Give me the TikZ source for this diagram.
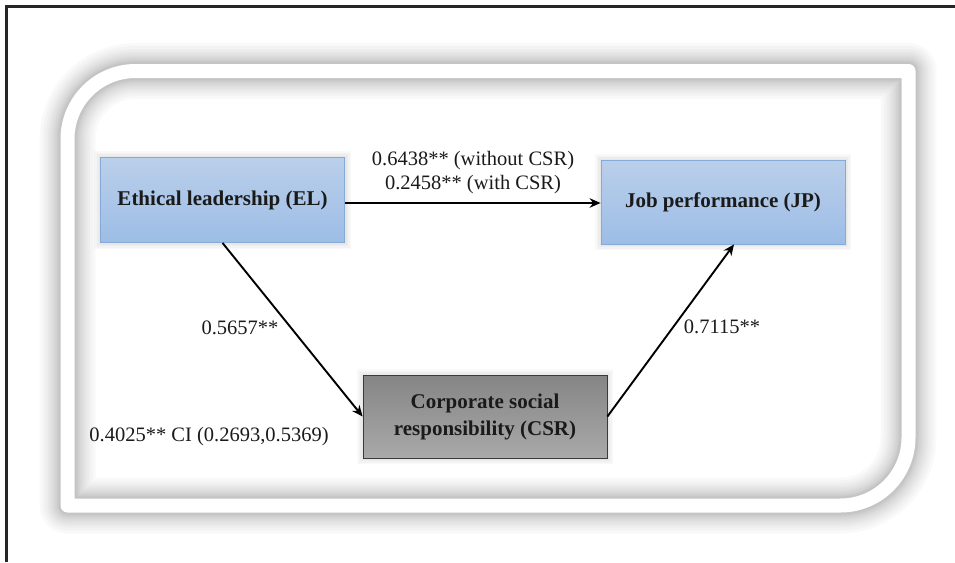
\documentclass[tikz,border=0pt]{standalone}
\usepackage{fontspec}
\setmainfont{Liberation Serif}
\usetikzlibrary{arrows.meta,positioning}
\definecolor{bluetop}{HTML}{BACFEA}
\definecolor{bluebot}{HTML}{9DBDE6}
\definecolor{blueedge}{HTML}{86AAD8}
\definecolor{graytop}{HTML}{858585}
\definecolor{graybot}{HTML}{A9A9A9}
\definecolor{grayedge}{HTML}{3A3A3A}
\definecolor{txtdark}{HTML}{1A1A1A}
\tikzset{
  bluebox/.style={draw=blueedge, line width=0.8pt, top color=bluetop, bottom color=bluebot,
    minimum width=244pt, minimum height=85pt, inner sep=0pt, font=\fontsize{21}{25}\selectfont\bfseries, text=txtdark},
  graybox/.style={draw=grayedge, line width=0.8pt, top color=graytop, bottom color=graybot,
    minimum width=244pt, minimum height=83pt, inner sep=0pt, align=center,
    font=\fontsize{21}{27}\selectfont\bfseries, text=txtdark},
  conn/.style={line width=1.9pt, -{Stealth[length=11pt,width=9.5pt]}},
  lbl/.style={font=\fontsize{20.5}{24}\selectfont, text=txtdark, inner sep=0pt, align=center},
  glow/.style={draw=black, draw opacity=0.022, line width=#1},
}
\begin{document}
\begin{tikzpicture}[x=1pt,y=-1pt]
\useasboundingbox (0,0) rectangle (955,562);
% outer frame lines (top and left)
\draw[line width=3pt, color=black!85] (6.5,562) -- (6.5,6.5) -- (955,6.5);
% rounded band with glow
\def\bandpath{(67.5,505.5) -- (67.5,139) arc[start angle=180,end angle=270,radius=68] -- (908.5,71) -- (908.5,437.5) arc[start angle=0,end angle=90,radius=68] -- cycle}
\foreach \w in {56,50,44,39,35,31,28,25,22,20,18}{
  \draw[glow=\w pt, line join=round] \bandpath;
}
\draw[white, line width=14pt, line join=round] \bandpath;
% box glows
\foreach \w in {12,9,6,3}{
  \draw[draw=black, draw opacity=0.025, line width=\w pt] (100,157) rectangle (345,243);
  \draw[draw=black, draw opacity=0.025, line width=\w pt] (601,160) rectangle (845,244);
  \draw[draw=black, draw opacity=0.025, line width=\w pt] (363,375) rectangle (607,458);
}
% nodes
\node[bluebox] (EL) at (222.5,200) {Ethical leadership (EL)};
\node[bluebox, minimum height=84pt] (JP) at (723,202) {Job performance (JP)};
\node[graybox] (CSR) at (485,416.5) {Corporate social\\responsibility (CSR)};
% connectors
\draw[conn] (EL.east |- 0,203) coordinate (a1) -- (a1 -| JP.west);
\draw[conn] (EL.south) -- (CSR.west);
\draw[conn] (CSR.east) -- (JP.south -| 734,0);
% labels
\node[lbl] (l1) at (473,173) {0.6438** (without CSR)\\0.2458** (with CSR)};
\node[lbl] (l2) at (240,328) {0.5657**};
\node[lbl] (l3) at (722,327) {0.7115**};
\node[lbl] (l4) at (209,437) {0.4025** CI (0.2693,0.5369)};
\end{tikzpicture}
\end{document}
